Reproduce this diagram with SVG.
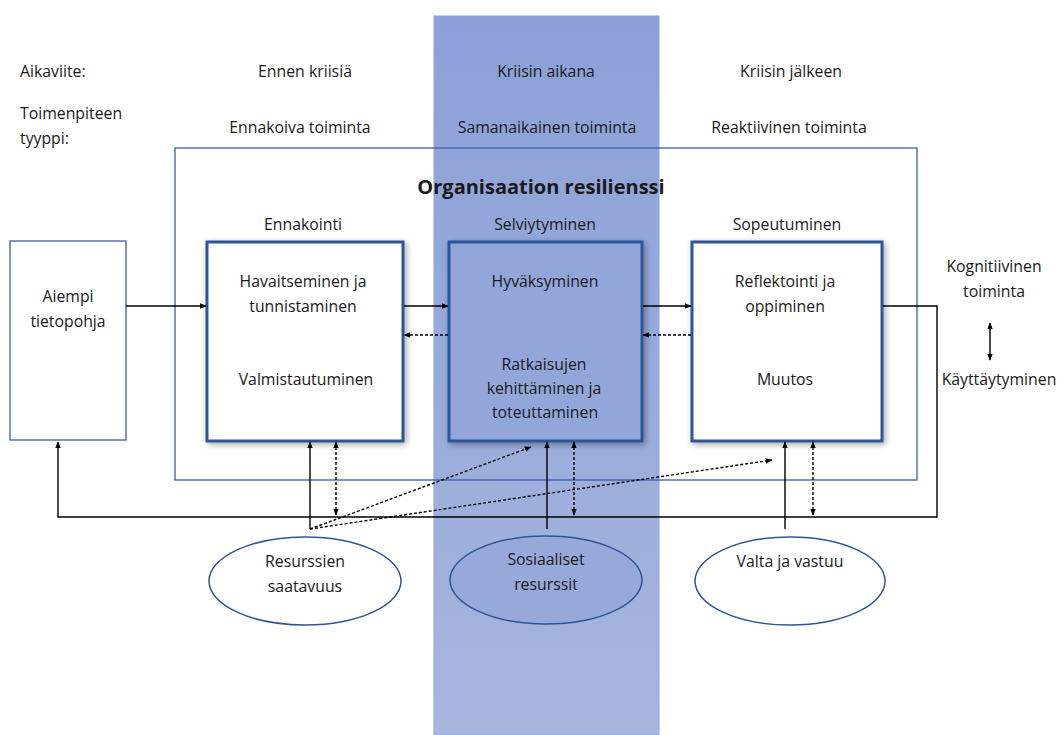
<svg xmlns="http://www.w3.org/2000/svg" width="1062" height="735" viewBox="0 0 1062 735">
<defs>
<linearGradient id="band" x1="0" y1="0" x2="0" y2="1">
<stop offset="0" stop-color="#8aa0d7"/>
<stop offset="1" stop-color="#a8b6de"/>
</linearGradient>
<filter id="sh" x="-10%" y="-10%" width="125%" height="125%">
<feDropShadow dx="2" dy="2" stdDeviation="3" flood-color="#000" flood-opacity="0.35"/>
</filter>
<marker id="ah" viewBox="0 0 10 10" refX="9" refY="5" markerWidth="7" markerHeight="7" orient="auto-start-reverse" markerUnits="userSpaceOnUse">
<path d="M0,1 L10,5 L0,9 z" fill="#000"/>
</marker>
<style>
text{font-family:"Open Sans","Liberation Sans",sans-serif;font-size:15.8px;fill:#1a1a1a}
.m{text-anchor:middle}
.box{fill:#fff;stroke:#2f5597;stroke-width:3}
.thin{fill:#fff;stroke:#3a5ea8;stroke-width:1.3}
.ell{fill:#fff;stroke:#2f5597;stroke-width:1.5}
.s{fill:none;stroke:#000;stroke-width:1.4}
.d{fill:none;stroke:#000;stroke-width:1.4;stroke-dasharray:3 2}
</style>
</defs>
<rect id="band-bg" x="434" y="16" width="225" height="719" fill="url(#band)" stroke="#86a6e6" stroke-width="1"/>
<g id="labels">
<text x="20" y="77">Aikaviite:</text>
<text class="m" x="305" y="77">Ennen kriisiä</text>
<text class="m" x="546" y="77">Kriisin aikana</text>
<text class="m" x="791" y="77">Kriisin jälkeen</text>
<text x="20" y="119">Toimenpiteen</text>
<text x="20" y="144">tyyppi:</text>
<text class="m" x="300" y="133">Ennakoiva toiminta</text>
<text class="m" x="547" y="133">Samanaikainen toiminta</text>
<text class="m" x="789" y="133">Reaktiivinen toiminta</text>
</g>
<g id="outer">
<rect x="175" y="148" width="742" height="332" fill="none" stroke="#3a5ea8" stroke-width="1.3"/>
<text class="m" x="541" y="194" style="font-size:20px;font-weight:bold">Organisaation resilienssi</text>
<text class="m" x="303" y="230">Ennakointi</text>
<text class="m" x="545" y="230">Selviytyminen</text>
<text class="m" x="787" y="230">Sopeutuminen</text>
</g>
<g id="aiempi">
<rect class="thin" x="10" y="241" width="116" height="199"/>
<text class="m" x="68" y="302">Aiempi</text>
<text class="m" x="68" y="327">tietopohja</text>
</g>
<g id="ennakointi">
<rect class="box" x="207" y="242" width="196" height="199" filter="url(#sh)"/>
<text class="m" x="303" y="287">Havaitseminen ja</text>
<text class="m" x="303" y="312">tunnistaminen</text>
<text class="m" x="306" y="385">Valmistautuminen</text>
</g>
<g id="selviytyminen">
<rect class="box" x="449" y="242" width="193" height="199" style="fill:#93a6da" filter="url(#sh)"/>
<text class="m" x="545" y="287">Hyväksyminen</text>
<text class="m" x="544" y="370">Ratkaisujen</text>
<text class="m" x="544" y="394">kehittäminen ja</text>
<text class="m" x="545" y="418">toteuttaminen</text>
</g>
<g id="sopeutuminen">
<rect class="box" x="692" y="242" width="190" height="199" filter="url(#sh)"/>
<text class="m" x="785" y="287">Reflektointi ja</text>
<text class="m" x="785" y="312">oppiminen</text>
<text class="m" x="785" y="385">Muutos</text>
</g>
<g id="kognitiivinen">
<text class="m" x="994" y="272">Kognitiivinen</text>
<text class="m" x="994" y="297">toiminta</text>
<text class="m" x="999" y="385">Käyttäytyminen</text>
</g>
<g id="resurssien">
<ellipse class="ell" cx="305" cy="581" rx="96" ry="44"/>
<text class="m" x="305" y="567">Resurssien</text>
<text class="m" x="305" y="592">saatavuus</text>
</g>
<g id="sosiaaliset">
<ellipse class="ell" cx="546" cy="580" rx="96" ry="44" style="fill:#97a9da"/>
<text class="m" x="546" y="565">Sosiaaliset</text>
<text class="m" x="546" y="590">resurssit</text>
</g>
<g id="valta">
<ellipse class="ell" cx="790" cy="581" rx="95" ry="44"/>
<text class="m" x="790" y="567">Valta ja vastuu</text>
</g>
<g id="connectors">
<line class="s" x1="126" y1="306" x2="206" y2="306" marker-end="url(#ah)"/>
<line class="s" x1="404" y1="306" x2="448" y2="306" marker-end="url(#ah)"/>
<line class="d" x1="448" y1="335" x2="404" y2="335" marker-end="url(#ah)"/>
<line class="s" x1="643" y1="306" x2="691" y2="306" marker-end="url(#ah)"/>
<line class="d" x1="691" y1="335" x2="643" y2="335" marker-end="url(#ah)"/>
<polyline class="s" points="883,306 937,306 937,517 58,517 58,442" marker-end="url(#ah)"/>
<line class="s" x1="990" y1="323" x2="990" y2="360" marker-start="url(#ah)" marker-end="url(#ah)"/>
<line class="s" x1="310" y1="529" x2="310" y2="442" marker-end="url(#ah)"/>
<line class="d" x1="336" y1="442" x2="336" y2="515" marker-start="url(#ah)" marker-end="url(#ah)"/>
<line class="s" x1="547" y1="529" x2="547" y2="442" marker-end="url(#ah)"/>
<line class="d" x1="574" y1="442" x2="574" y2="515" marker-start="url(#ah)" marker-end="url(#ah)"/>
<line class="s" x1="785" y1="529" x2="785" y2="442" marker-end="url(#ah)"/>
<line class="d" x1="813" y1="442" x2="813" y2="515" marker-start="url(#ah)" marker-end="url(#ah)"/>
<line class="d" x1="310" y1="529" x2="531" y2="447" marker-end="url(#ah)"/>
<line class="d" x1="310" y1="529" x2="772" y2="460" marker-end="url(#ah)"/>
</g>
</svg>
